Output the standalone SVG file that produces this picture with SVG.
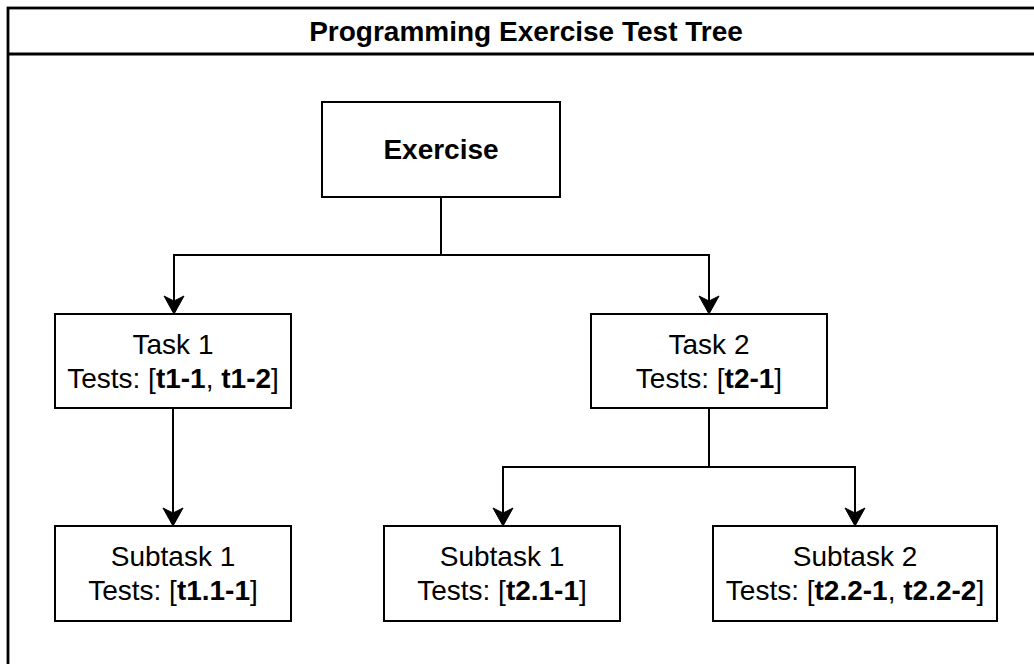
<svg xmlns="http://www.w3.org/2000/svg" width="1034" height="664" viewBox="0 0 1034 664">
  <style>
    .frame { fill: none; stroke: #000; stroke-width: 2.8; }
    .node rect { fill: #fff; stroke: #000; stroke-width: 2; }
    .node text, .title { font-family: "Liberation Sans", Arial, Helvetica, sans-serif; font-size: 28px; fill: #000; text-anchor: middle; }
    .title, .b { font-weight: bold; }
    .edge { fill: none; stroke: #000; stroke-width: 2; }
  </style>
  <defs>
    <!-- classic notched arrowhead; tip sits 4px past the line end -->
    <marker id="arrow" markerUnits="userSpaceOnUse" viewBox="-16 -11 22 22" refX="0" refY="0" markerWidth="22" markerHeight="22" orient="auto">
      <path d="M4,0 L-14,-10 L-9,0 L-14,10 Z" fill="#000" stroke="#000" stroke-width="1" stroke-linejoin="miter"/>
    </marker>
  </defs>

  <rect width="1034" height="664" fill="#fff"/>

  <!-- container with header band -->
  <g id="container">
    <rect class="frame" x="8" y="8" width="1040" height="670"/>
    <line class="frame" x1="8" y1="54" x2="1048" y2="54"/>
    <text class="title" x="526" y="41">Programming Exercise Test Tree</text>
  </g>

  <!-- connectors -->
  <g id="connectors">
    <path class="edge" d="M441,197 V255 H174 V310" marker-end="url(#arrow)"/>
    <path class="edge" d="M441,255 H709 V310" marker-end="url(#arrow)"/>
    <path class="edge" d="M173,408 V522" marker-end="url(#arrow)"/>
    <path class="edge" d="M709,408 V467 H503 V522" marker-end="url(#arrow)"/>
    <path class="edge" d="M709,467 H855 V522" marker-end="url(#arrow)"/>
  </g>

  <g id="exercise" class="node">
    <rect x="322" y="102" width="238" height="95"/>
    <text x="441" y="159" class="b">Exercise</text>
  </g>

  <g id="task1" class="node">
    <rect x="55" y="314" width="236" height="94"/>
    <text x="173" y="354">Task 1</text>
    <text x="173" y="388">Tests: [<tspan class="b">t1-1</tspan>, <tspan class="b">t1-2</tspan>]</text>
  </g>

  <g id="task2" class="node">
    <rect x="591" y="314" width="236" height="94"/>
    <text x="709" y="354">Task 2</text>
    <text x="709" y="388">Tests: [<tspan class="b">t2-1</tspan>]</text>
  </g>

  <g id="subtask1-1" class="node">
    <rect x="55" y="526" width="236" height="95"/>
    <text x="173" y="566">Subtask 1</text>
    <text x="173" y="600">Tests: [<tspan class="b">t1.1-1</tspan>]</text>
  </g>

  <g id="subtask2-1" class="node">
    <rect x="384" y="526" width="236" height="95"/>
    <text x="502" y="566">Subtask 1</text>
    <text x="502" y="600">Tests: [<tspan class="b">t2.1-1</tspan>]</text>
  </g>

  <g id="subtask2-2" class="node">
    <rect x="713" y="526" width="284" height="95"/>
    <text x="855" y="566">Subtask 2</text>
    <text x="855" y="600">Tests: [<tspan class="b">t2.2-1</tspan>, <tspan class="b">t2.2-2</tspan>]</text>
  </g>
</svg>
